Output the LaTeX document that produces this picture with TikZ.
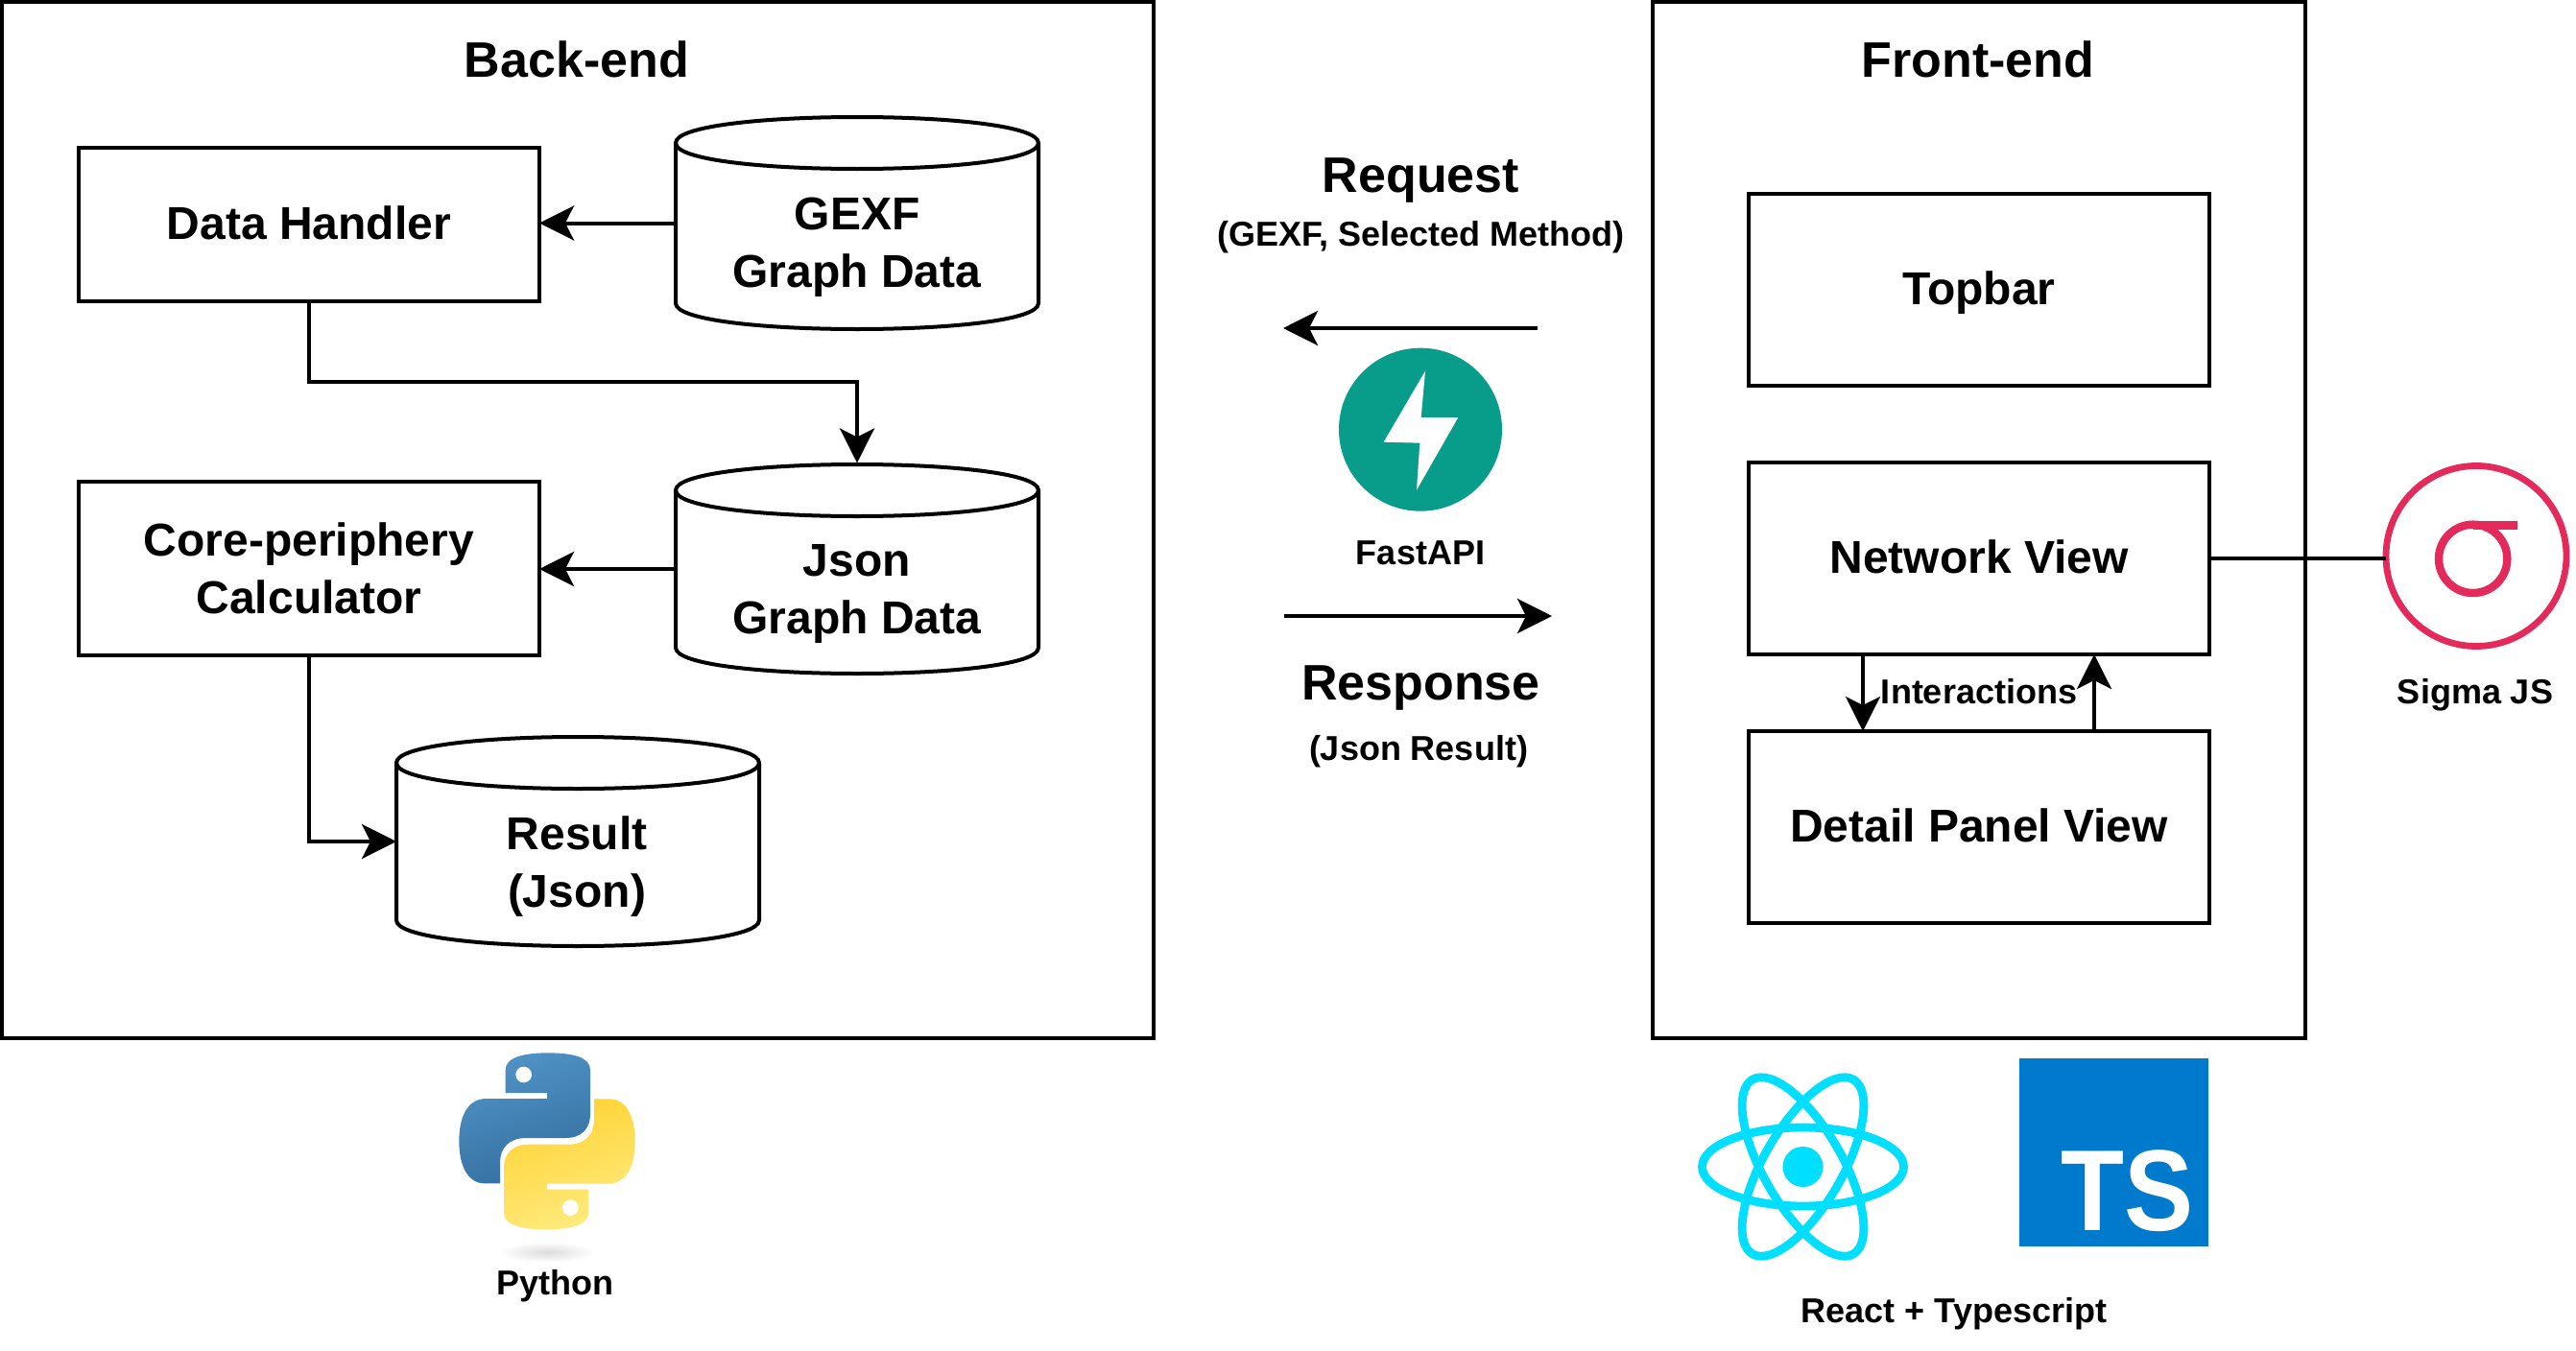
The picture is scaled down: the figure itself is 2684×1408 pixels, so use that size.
\documentclass[tikz,border=0pt]{standalone}
\usepackage{fontspec}
\usepackage{graphicx}
\setmainfont{Liberation Sans}
\usetikzlibrary{arrows.meta,calc}
\definecolor{pyblueA}{HTML}{5093C6}
\definecolor{pyblueB}{HTML}{356FA0}
\definecolor{pyyelA}{HTML}{FFEB80}
\definecolor{pyyelB}{HTML}{FFD232}
\definecolor{reactc}{HTML}{00DFFF}
\definecolor{tsc}{HTML}{007ACC}
\definecolor{fastc}{HTML}{089C8B}
\definecolor{sigmac}{HTML}{E42A5A}
\tikzset{
  x=0.5pt,y=-0.5pt,
  every node/.style={inner sep=0pt,outer sep=0pt,align=center,font=\bfseries},
  boxnode/.style={draw=black,line width=2pt,rectangle,minimum width=#1},
  boxnode/.default=240pt,
  oneline/.style={text height=15pt,text depth=0pt},
  cylnode/.style={rectangle,minimum width=189pt,minimum height=110.5pt},
  cylshape/.style={draw=black,line width=2pt,fill=white,line join=round},
  conn/.style={draw=black,line width=2pt},
  arr/.style={conn,-{Stealth[length=18pt,width=18pt,inset=4.5pt]}},
  big/.style={font=\bfseries\fontsize{26}{31}\selectfont},
  mid/.style={font=\bfseries\fontsize{24}{30}\selectfont},
  small/.style={font=\bfseries\fontsize{18}{22}\selectfont},
  logo/.style={x=0.16667pt,y=-0.16667pt},
}
\newcommand{\cylpath}[5]{% name, x1, y1, x2, y2
  \node[cylnode] (#1) at ({(#2+#4)/2},{(#3+#5)/2}) {};
  \draw[cylshape] (#2,#3+27) .. controls (#2,#3-9) and (#4,#3-9) .. (#4,#3+27)
    -- (#4,#5-27) .. controls (#4,#5+9) and (#2,#5+9) .. (#2,#5-27) -- cycle;
  \draw[cylshape,fill=none] (#2,#3+27) .. controls (#2,#3+63) and (#4,#3+63) .. (#4,#3+27);
}
\begin{document}
\begin{tikzpicture}
\useasboundingbox (0,0) rectangle (2684,1408);
% containers
\node[boxnode=600pt,minimum height=540pt] (back) at (602,542) {};
\node[boxnode=340pt,minimum height=540pt] (front) at (2062,542) {};
\node[big] (backT) at (601,62) {Back-end};
\node[big] (frontT) at (2061,62) {Front-end};
% back-end
\node[boxnode,minimum height=80pt,mid,oneline] (dh) at (322,234) {Data Handler};
\node[boxnode,minimum height=90.5pt,mid] (core) at (322,592.5) {Core-periphery\\Calculator};
\cylpath{gexf}{704}{122}{1082}{343}
\cylpath{json}{704}{484}{1082}{702}
\cylpath{res}{413}{768}{791}{986}
\node[mid] (gexfT) at (893,258) {GEXF\\Graph Data};
\node[mid] (jsonT) at (893,619) {Json\\Graph Data};
\node[mid] (resT) at (601,903) {Result\\(Json)};
\coordinate (bend) at (gexf |- 0,398);
\draw[arr] (gexf.west) -- (gexf.west -| dh.east);
\draw[arr] (dh.south) |- (bend) -- (json.north);
\draw[arr] (json.west) -- (json.west -| core.east);
\draw[arr] (core.south) |- (res.west);
% front-end
\node[boxnode,minimum height=100pt,mid,oneline] (top) at (2062,302) {Topbar};
\node[boxnode,minimum height=100pt,mid,oneline] (net) at (2062,582) {Network View};
\node[boxnode,minimum height=100pt,mid,oneline] (det) at (2062,862) {Detail Panel View};
\coordinate (dnA) at (1941,682);
\coordinate (dnB) at (1941,762);
\coordinate (upA) at (2182,762);
\coordinate (upB) at (2182,682);
\draw[arr] (dnA) -- (dnB);
\draw[arr] (upA) -- (upB);
\node[small] (inter) at (2062,721) {Interactions};
% middle
\node[big] (req) at (1480.5,188) {Request};
\node[small] (reqS) at (1480.5,247) {(GEXF, Selected Method)};
\node[big] (resp) at (1480.5,717) {Response};
\node[small] (respS) at (1478,783) {(Json Result)};
\node[small] (fastT) at (1480,576) {FastAPI};
\coordinate (reqA) at (1602,342);
\coordinate (reqB) at (1337,342);
\coordinate (respA) at (1338,642);
\coordinate (respB) at (1617,642);
\draw[arr] (reqA) -- (reqB);
\draw[arr] (respA) -- (respB);
% FastAPI logo
\begin{scope}[shift={(1320,320)},logo]
  \fill[fastc] (480,383) circle[radius=255];
  \fill[white] (495,200) -- (365,422) -- (478,425) -- (468,572) -- (598,345) -- (482,345) -- cycle;
\end{scope}
% Sigma logo
\node[circle,draw=sigmac,line width=3.4pt,minimum size=94pt] (sigma) at (2580,579.5) {};
\draw[conn] (net.east) -- (net.east -| sigma.west);
\begin{scope}[shift={(2440,460)},logo]
  \draw[sigmac,line width=4.2pt] (410,367) circle[radius=107];
  \draw[sigmac,line width=4.4pt] (410,262) -- (548,262);
\end{scope}
\node[small] (sigmaT) at (2579,724) {Sigma JS};
% Python logo
\begin{scope}[shift={(440,1060)},logo]
  \shade[inner color=black!14,outer color=white] (390,735) ellipse[x radius=150,y radius=32];
  \def\pysnake{(260,237) -- (260,165) .. controls (260,125) and (320,112) .. (392,112)
    .. controls (470,112) and (525,125) .. (525,165) -- (525,305)
    .. controls (525,350) and (495,378) .. (450,378) -- (325,378)
    .. controls (270,378) and (243,410) .. (243,455) -- (243,520) -- (195,520)
    .. controls (145,520) and (115,470) .. (115,388)
    .. controls (115,305) and (145,255) .. (200,255) -- (390,255) -- (390,237) -- cycle}
  \shade[left color=pyblueA,right color=pyblueB,shading angle=20] \pysnake;
  \fill[white] (317,180) circle[radius=25];
  \begin{scope}[shift={(780,776)},xscale=-1,yscale=-1]
    \shade[left color=pyyelB,right color=pyyelA,shading angle=20] \pysnake;
    \fill[white] (317,180) circle[radius=25];
  \end{scope}
\end{scope}
\node[small] (pyT) at (578,1340) {Python};
% React logo
\begin{scope}[shift={(1878.5,1216)}]
  \draw[reactc,line width=4.4pt] (0,0) ellipse[x radius=105,y radius=41];
  \draw[reactc,line width=4.4pt,rotate=60] (0,0) ellipse[x radius=105,y radius=41];
  \draw[reactc,line width=4.4pt,rotate=-60] (0,0) ellipse[x radius=105,y radius=41];
  \fill[reactc] (0,0) circle[radius=21];
\end{scope}
\fill[tsc] (2104,1103) rectangle (2301,1299);
\node[anchor=base,text=white,font=\bfseries\fontsize{60}{60}\selectfont] (tsT) at (2216,1282) {\scalebox{.9}[1]{TS}};
\node[small] (reactT) at (2036,1369) {React + Typescript};
\end{tikzpicture}
\end{document}
